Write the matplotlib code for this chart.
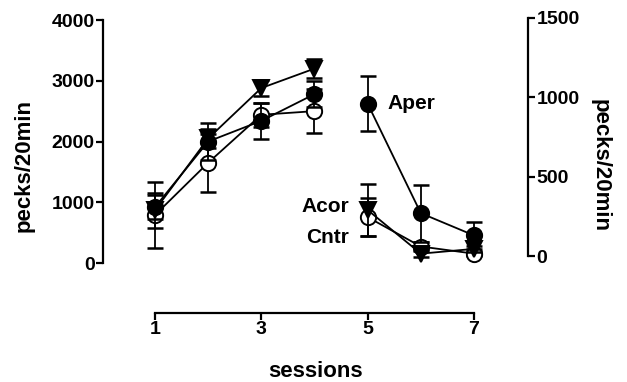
import matplotlib
matplotlib.use('Agg')
import matplotlib.pyplot as plt
import numpy as np

plt.rcParams['font.family'] = ['Liberation Sans', 'DejaVu Sans']

# sessions 1-4 use the left axis, sessions 5-7 the right axis
sess_left = [1, 2, 3, 4]
sess_right = [5, 6, 7]

aper_left = [920, 2000, 2340, 2780]
aper_left_err = [200, 300, 300, 220]
acor_left = [870, 2050, 2880, 3200]
acor_left_err = [290, 150, 130, 150]
cntr_left = [790, 1650, 2440, 2500]
cntr_left_err = [540, 480, 200, 360]

aper_right = [960, 270, 130]
aper_right_err = [172, 180, 85]
acor_right = [290, 15, 45]
acor_right_err = [165, 20, 20]
cntr_right = [245, 60, 15]
cntr_right_err = [120, 30, 15]

left_ticks = [0, 1000, 2000, 3000, 4000]
right_ticks = [0, 500, 1000, 1500]
x_ticks = [1, 3, 5, 7]

fig = plt.figure(figsize=(6.27, 3.82), dpi=100)
ax = fig.add_axes([103/627, 1-313/382, (528-103)/627, (313-18)/382])
ax2 = ax.twinx()

ax.set_xlim(0.022, 8.016)
ax.set_ylim(-823, 4033)
ax2.set_ylim(-359, 1500)

styles = {
    'aper': dict(marker='o', mfc='black', mec='black'),
    'acor': dict(marker='v', mfc='black', mec='black'),
    'cntr': dict(marker='o', mfc='white', mec='black'),
}

def draw(a, x, y, e, st, z):
    a.errorbar(x, y, yerr=e, fmt='none', ecolor='black', elinewidth=1.3,
               capsize=6, capthick=1.8, zorder=z)
    a.plot(x, y, color='black', lw=1.3, ms=11, mew=1.4, zorder=z + 1, **st)

draw(ax, sess_left, cntr_left, cntr_left_err, styles['cntr'], 3)
draw(ax, sess_left, aper_left, aper_left_err, styles['aper'], 5)
draw(ax, sess_left, acor_left, acor_left_err, styles['acor'], 7)
draw(ax2, sess_right, cntr_right, cntr_right_err, styles['cntr'], 3)
draw(ax2, sess_right, acor_right, acor_right_err, styles['acor'], 5)
draw(ax2, sess_right, aper_right, aper_right_err, styles['aper'], 7)

for a in (ax, ax2):
    a.spines['top'].set_visible(False)
    for s in a.spines.values():
        s.set_linewidth(1.6)

ax.spines['right'].set_visible(False)
ax2.spines['left'].set_visible(False)
ax2.spines['bottom'].set_visible(False)
ax.spines['left'].set_bounds(0, 4000)
ax2.spines['right'].set_bounds(0, 1500)
ax.spines['bottom'].set_bounds(1, 7)

ax.set_yticks(left_ticks)
ax2.set_yticks(right_ticks)
ax.set_xticks(x_ticks)
ax.tick_params(axis='both', direction='out', length=5, width=1.6,
               labelsize=14, pad=1)
ax2.tick_params(axis='y', direction='out', length=5, width=1.6,
                labelsize=14, pad=1)
for lab in ax.get_yticklabels() + ax.get_xticklabels() + ax2.get_yticklabels():
    lab.set_fontweight('bold')

ax.set_ylabel('pecks/20min', fontsize=16, fontweight='bold', labelpad=12)
ax2.set_ylabel('pecks/20min', fontsize=16, fontweight='bold', rotation=270,
               labelpad=22)
ax.set_xlabel('sessions', fontsize=16, fontweight='bold', labelpad=16)

ax2.text(5.38, aper_right[0], 'Aper', fontsize=15, fontweight='bold',
         ha='left', va='center')
ax2.text(4.65, acor_right[0] + 20, 'Acor', fontsize=15, fontweight='bold',
         ha='right', va='center')
ax2.text(4.65, cntr_right[0] - 130, 'Cntr', fontsize=15, fontweight='bold',
         ha='right', va='center')

fig.savefig('out.png', dpi=100)
